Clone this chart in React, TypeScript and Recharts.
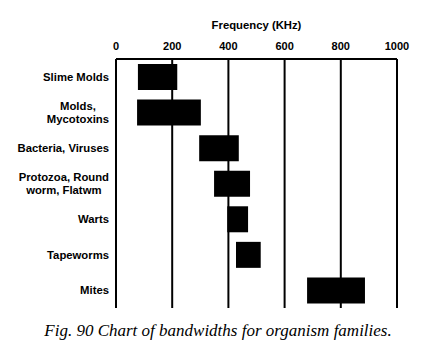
import React from 'react';
import { BarChart, Bar, XAxis, YAxis, CartesianGrid } from 'recharts';

const categories = [
  'Slime Molds',
  'Molds,\nMycotoxins',
  'Bacteria, Viruses',
  'Protozoa, Round\nworm, Flatwm',
  'Warts',
  'Tapeworms',
  'Mites',
];
const lowFreq = [78, 75, 296, 349, 396, 427, 680];
const highFreq = [218, 302, 437, 477, 470, 515, 886];
const freqTicks = [0, 200, 400, 600, 800, 1000];

const data = categories.map((name, i) => ({
  name,
  low: lowFreq[i],
  span: highFreq[i] - lowFreq[i],
}));

const LABEL_FONT = 'bold 11.3px "Liberation Sans", Arial, sans-serif';

let ctx: CanvasRenderingContext2D | null = null;
function measure(text: string): number {
  if (!ctx) {
    const c = document.createElement('canvas');
    ctx = c.getContext('2d');
  }
  if (!ctx) return text.length * 6;
  ctx.font = LABEL_FONT;
  return ctx.measureText(text).width;
}

const CategoryTick = (props: any) => {
  const { x, y, payload } = props;
  const lines: string[] = String(payload.value).split('\n');
  const lineH = 13.3;
  const widths = lines.map(measure);
  const maxW = Math.max(...widths);
  const cx = x - maxW / 2;
  const startY = y - ((lines.length - 1) * lineH) / 2;
  return (
    <g>
      {lines.map((ln, i) => (
        <text
          key={i}
          x={lines.length > 1 ? cx : x}
          y={startY + i * lineH}
          dy="0.36em"
          textAnchor={lines.length > 1 ? 'middle' : 'end'}
          fontFamily='"Liberation Sans", Arial, sans-serif'
          fontWeight="bold"
          fontSize={11.3}
          fill="#000"
        >
          {ln}
        </text>
      ))}
    </g>
  );
};

export default function App() {
  return (
    <div style={{ position: 'absolute', left: 0, top: 0, width: 443, height: 353, background: '#fff' }}>
      <BarChart
        width={443}
        height={353}
        data={data}
        layout="vertical"
        margin={{ top: 30, right: 46, bottom: 45, left: 0 }}
      >
        <CartesianGrid horizontal={false} vertical={true} stroke="#000" strokeWidth={2} strokeOpacity={1} />
        <XAxis
          type="number"
          orientation="top"
          domain={[0, 1000]}
          ticks={freqTicks}
          height={29}
          axisLine={{ stroke: '#000', strokeWidth: 2 }}
          tickLine={false}
          tickSize={0}
          tickMargin={9}
          tick={{ fill: '#000', fontSize: 11, fontWeight: 'bold', fontFamily: '"Liberation Sans", Arial, sans-serif' }}
          interval={0}
          label={{
            value: 'Frequency (KHz)',
            position: 'top',
            offset: 1,
            fill: '#000',
            fontSize: 11.3,
            fontWeight: 'bold',
            fontFamily: '"Liberation Sans", Arial, sans-serif',
          }}
        />
        <YAxis
          type="category"
          dataKey="name"
          width={116}
          axisLine={false}
          tickLine={false}
          tickSize={0}
          tickMargin={7}
          interval={0}
          tick={<CategoryTick />}
        />
        <Bar dataKey="low" stackId="r" fill="transparent" barSize={26} isAnimationActive={false} />
        <Bar dataKey="span" stackId="r" fill="#000" barSize={26} isAnimationActive={false} />
      </BarChart>
      <div
        style={{
          position: 'absolute',
          left: 0,
          top: 320,
          width: 436,
          textAlign: 'center',
          fontFamily: '"Liberation Serif", "Times New Roman", serif',
          fontStyle: 'italic',
          fontSize: 17,
          lineHeight: '22px',
          color: '#000',
          whiteSpace: 'nowrap',
        }}
      >
        Fig. 90 Chart of bandwidths for organism families.
      </div>
    </div>
  );
}
